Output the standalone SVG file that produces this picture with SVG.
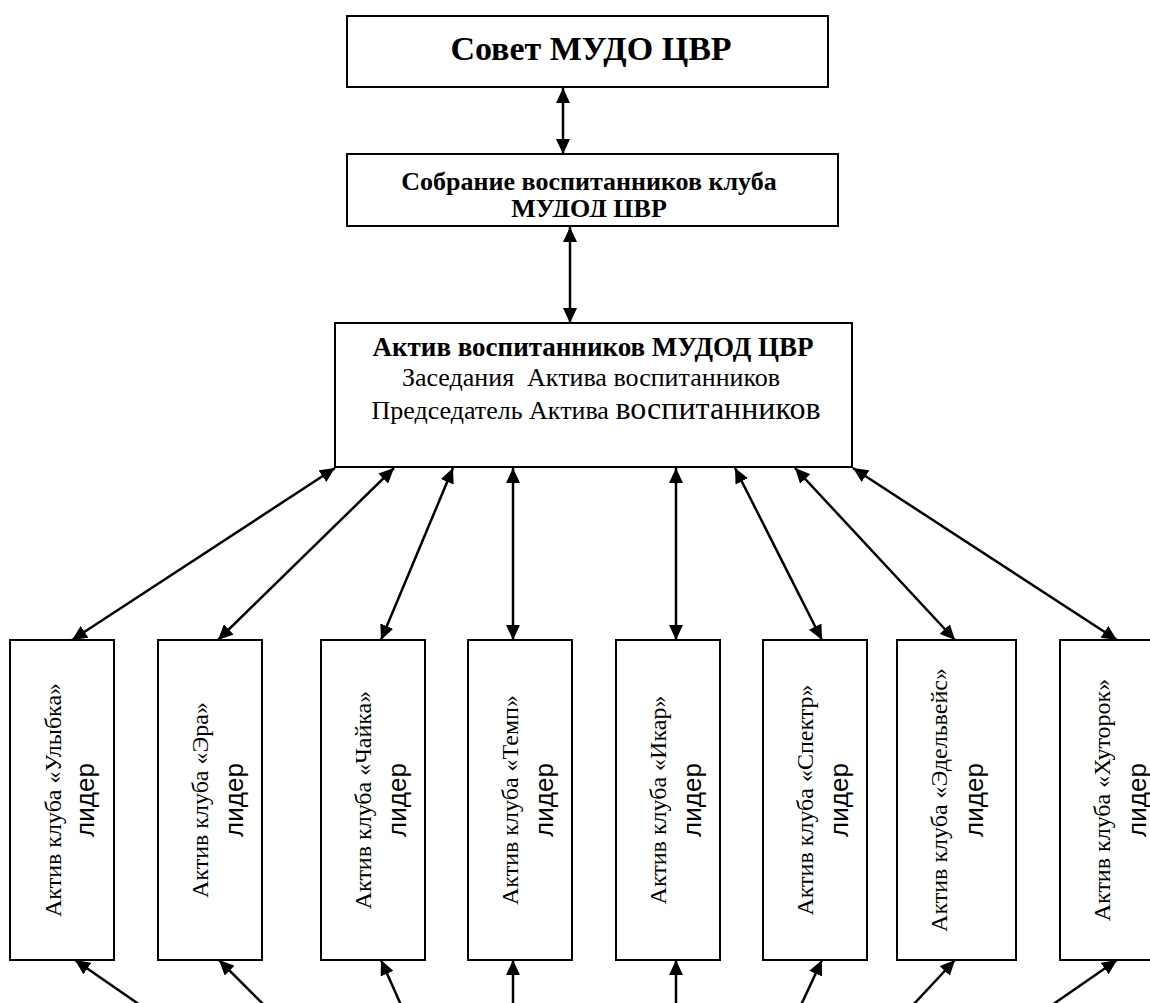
<svg xmlns="http://www.w3.org/2000/svg" width="1150" height="1003" viewBox="0 0 1150 1003">
<style>
.box{fill:#fff;stroke:#000;stroke-width:2}
.con{stroke:#000;stroke-width:2.5;fill:none}
.serif{font-family:"Liberation Serif","Times New Roman",serif;fill:#000}
.b{font-weight:bold}
.club{font-family:"Liberation Serif","Times New Roman",serif;font-size:24px;text-anchor:middle;fill:#000}
.lead{font-family:"Liberation Sans",Arial,sans-serif;font-size:26px;text-anchor:middle;fill:#000}
</style>
<defs>
<marker id="ah" viewBox="0 0 15 14" refX="15" refY="7" markerWidth="15" markerHeight="14" markerUnits="userSpaceOnUse" orient="auto-start-reverse">
<path d="M0,0 L15,7 L0,14 z" fill="#000"/>
</marker>
<clipPath id="clip2"><rect x="347" y="154" width="491" height="63"/></clipPath>
</defs>
<rect width="1150" height="1003" fill="#fff"/>

<g id="connectors">
<line class="con" x1="563" y1="88" x2="563" y2="154" marker-start="url(#ah)" marker-end="url(#ah)"/>
<line class="con" x1="570" y1="227" x2="570" y2="323" marker-start="url(#ah)" marker-end="url(#ah)"/>
<line class="con" x1="335" y1="468" x2="72" y2="640" marker-start="url(#ah)" marker-end="url(#ah)"/>
<line class="con" x1="394" y1="468" x2="218" y2="640" marker-start="url(#ah)" marker-end="url(#ah)"/>
<line class="con" x1="453" y1="468" x2="381" y2="640" marker-start="url(#ah)" marker-end="url(#ah)"/>
<line class="con" x1="513" y1="468" x2="513" y2="640" marker-start="url(#ah)" marker-end="url(#ah)"/>
<line class="con" x1="676" y1="468" x2="676" y2="640" marker-start="url(#ah)" marker-end="url(#ah)"/>
<line class="con" x1="735" y1="468" x2="822" y2="640" marker-start="url(#ah)" marker-end="url(#ah)"/>
<line class="con" x1="795" y1="468" x2="955" y2="640" marker-start="url(#ah)" marker-end="url(#ah)"/>
<line class="con" x1="853" y1="468" x2="1117" y2="640" marker-start="url(#ah)" marker-end="url(#ah)"/>
<line class="con" x1="140" y1="1005" x2="75" y2="960" marker-end="url(#ah)"/>
<line class="con" x1="264" y1="1005" x2="219" y2="960" marker-end="url(#ah)"/>
<line class="con" x1="401" y1="1005" x2="381" y2="960" marker-end="url(#ah)"/>
<line class="con" x1="513" y1="1005" x2="513" y2="960" marker-end="url(#ah)"/>
<line class="con" x1="676" y1="1005" x2="676" y2="960" marker-end="url(#ah)"/>
<line class="con" x1="801" y1="1005" x2="822" y2="960" marker-end="url(#ah)"/>
<line class="con" x1="913" y1="1005" x2="955" y2="960" marker-end="url(#ah)"/>
<line class="con" x1="1052" y1="1005" x2="1117" y2="960" marker-end="url(#ah)"/>
</g>

<g id="sovet">
<rect class="box" x="347" y="16" width="481" height="71"/>
<text class="serif b" x="591" y="60" font-size="34" text-anchor="middle">Совет МУДО ЦВР</text>
</g>

<g id="sobranie">
<rect class="box" x="347" y="154" width="491" height="72"/>
<g clip-path="url(#clip2)">
<text class="serif b" x="589" y="190" font-size="26" text-anchor="middle">Собрание воспитанников клуба</text>
<text class="serif b" x="589" y="217" font-size="26" text-anchor="middle">МУДОД ЦВР</text>
</g>
</g>

<g id="aktiv">
<rect class="box" x="335" y="323" width="517" height="144"/>
<text class="serif b" x="593" y="356" font-size="27" text-anchor="middle">Актив воспитанников МУДОД ЦВР</text>
<text class="serif" x="591" y="386" font-size="26" text-anchor="middle" xml:space="preserve">Заседания  Актива воспитанников</text>
<text class="serif" x="596" y="419" font-size="26" text-anchor="middle">Председатель Актива <tspan font-size="32">воспитанников</tspan></text>
</g>

<g id="club-ulybka">
<rect class="box" x="10" y="640" width="104" height="320"/>
<text class="club" transform="rotate(-90 61 800)" x="61" y="800">Актив клуба «Улыбка»</text>
<text class="lead" transform="rotate(-90 94 800)" x="94" y="800">лидер</text>
</g>
<g id="club-era">
<rect class="box" x="158" y="640" width="104" height="320"/>
<text class="club" transform="rotate(-90 208 800)" x="208" y="800">Актив клуба «Эра»</text>
<text class="lead" transform="rotate(-90 243 800)" x="243" y="800">лидер</text>
</g>
<g id="club-chaika">
<rect class="box" x="321" y="640" width="104" height="320"/>
<text class="club" transform="rotate(-90 371 800)" x="371" y="800">Актив клуба «Чайка»</text>
<text class="lead" transform="rotate(-90 406 800)" x="406" y="800">лидер</text>
</g>
<g id="club-temp">
<rect class="box" x="468" y="640" width="104" height="320"/>
<text class="club" transform="rotate(-90 518 800)" x="518" y="800">Актив клуба «Темп»</text>
<text class="lead" transform="rotate(-90 553 800)" x="553" y="800">лидер</text>
</g>
<g id="club-ikar">
<rect class="box" x="616" y="640" width="104" height="320"/>
<text class="club" transform="rotate(-90 666 800)" x="666" y="800">Актив клуба «Икар»</text>
<text class="lead" transform="rotate(-90 701 800)" x="701" y="800">лидер</text>
</g>
<g id="club-spektr">
<rect class="box" x="763" y="640" width="104" height="320"/>
<text class="club" transform="rotate(-90 813 800)" x="813" y="800">Актив клуба «Спектр»</text>
<text class="lead" transform="rotate(-90 848 800)" x="848" y="800">лидер</text>
</g>
<g id="club-edelweiss">
<rect class="box" x="897" y="640" width="119" height="320"/>
<text class="club" transform="rotate(-90 947 800)" x="947" y="800">Актив клуба «Эдельвейс»</text>
<text class="lead" transform="rotate(-90 983 800)" x="983" y="800">лидер</text>
</g>
<g id="club-khutorok">
<rect class="box" x="1060" y="640" width="104" height="320"/>
<text class="club" transform="rotate(-90 1110 800)" x="1110" y="800">Актив клуба «Хуторок»</text>
<text class="lead" transform="rotate(-90 1146 800)" x="1146" y="800">лидер</text>
</g>
</svg>
